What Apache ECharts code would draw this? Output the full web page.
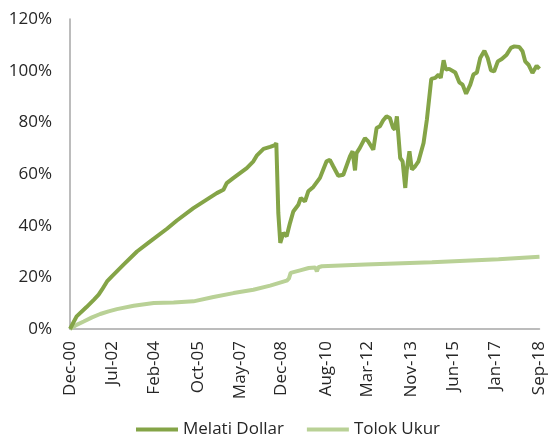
<!DOCTYPE html>
<html>
<head>
<meta charset="utf-8">
<script src="https://cdn.jsdelivr.net/npm/echarts@6/dist/echarts.min.js"></script>
<style>
  html, body { margin: 0; padding: 0; background: #fff; }
  #chart { width: 548px; height: 437px; }
</style>
</head>
<body>
<div id="chart"></div>
<script>
// x = months since Dec-00
const tickMonths = [0, 19, 38, 58, 77, 96, 116, 135, 155, 174, 193, 213];
const tickLabels = ['Dec-00', 'Jul-02', 'Feb-04', 'Oct-05', 'May-07', 'Dec-08',
  'Aug-10', 'Mar-12', 'Nov-13', 'Jun-15', 'Jan-17', 'Sep-18'];

// Melati Dollar, cumulative return in %
const melati = [
  [0, 0], [3, 4.9], [7.5, 8.5], [11, 11.5], [13, 13.3], [14.5, 15.2], [16.8, 18.4],
  [19, 20.4], [24.3, 24.9], [30.4, 30], [36.4, 33.9], [44, 38.8], [48.5, 42],
  [56, 46.8], [66.6, 52.6], [69.6, 53.9], [71.1, 56.5], [74.2, 58.5], [80.2, 62.3],
  [83.2, 64.9], [84.7, 67.1], [87.8, 69.7], [90.8, 70.5], [93, 71.2], [93.6, 72],
  [94.5, 45], [95.4, 33.3], [96.8, 37.2], [98.3, 35.9], [99.8, 41], [101.3, 45.5],
  [103.6, 48.1], [104.7, 50.7], [106.6, 49.4], [108.1, 53.3], [110.4, 55],
  [113.4, 58.5], [114.9, 61.7], [116.4, 64.9], [117.9, 65.5], [119.4, 63],
  [121.7, 59.3], [124, 59.7], [127, 66.8], [128.2, 68.8], [129.3, 61.4], [130, 68.1],
  [131.5, 70.1], [133.8, 73.9], [135.3, 72.6], [137.6, 69.4], [139.1, 77.8],
  [140.6, 78.5], [142.1, 80.8], [143.6, 82.3], [145.1, 81.7], [146.5, 78],
  [147.4, 77.2], [148.3, 82.3], [149.8, 66.2], [150.9, 64.9], [152.1, 54.6],
  [152.8, 61.7], [154, 68.8], [155.1, 61.7], [156.6, 63], [158.1, 64.9], [160.4, 72],
  [161.9, 81], [163.9, 96.8], [165.7, 97.2], [167.2, 98.5], [168.2, 97.2],
  [169.5, 104], [170.5, 100.4], [172, 100.7], [174.8, 99.3], [176.6, 95.5],
  [178.1, 94.6], [179.7, 91.1], [181.6, 94.6], [183, 98.5], [184.6, 99.3],
  [186.1, 104.9], [188, 107.7], [189.5, 104.9], [191, 100.1], [192.4, 99.7],
  [194.1, 103.6], [195.9, 104.5], [198.1, 106.2], [200, 108.8], [201.6, 109.4],
  [203.8, 109.2], [205.3, 107.5], [206.5, 103.6], [208, 102.3], [209.8, 99.1],
  [211.7, 101.9], [213, 100.7]
];

// Tolok Ukur (benchmark), cumulative return in %
const tolok = [
  [0, 0], [3, 1.6], [6.2, 2.9], [10, 4.5], [13.7, 5.8], [17.5, 6.8], [21.3, 7.7],
  [28.9, 9], [38, 10.1], [47, 10.3], [56, 10.7], [65.1, 12.4], [74.2, 13.9],
  [83.2, 15.2], [90.8, 16.8], [98.3, 18.7], [99.3, 19.5], [100.1, 21.7],
  [104.4, 22.7], [108.3, 23.6], [111.3, 23.8], [112, 22.3], [112.7, 23.9],
  [114.3, 24.3], [134, 25], [164.2, 25.8], [194.4, 27], [213, 28]
];

const font = '"Open Sans", sans-serif';
const textColor = '#262626';
const axisColor = '#a6a6a6';

var chart = echarts.init(document.getElementById('chart'));
chart.setOption({
  animation: false,
  textStyle: { fontFamily: font },
  grid: { left: 70, right: 7, top: 19, bottom: 108 },
  xAxis: {
    type: 'value',
    min: 0,
    max: 213,
    axisLine: { show: true, lineStyle: { color: axisColor, width: 1.5 } },
    axisTick: { show: false },
    splitLine: { show: false },
    axisLabel: {
      customValues: tickMonths,
      formatter: function (v) { return tickLabels[tickMonths.indexOf(v)]; },
      rotate: 90,
      margin: 12,
      color: textColor,
      fontSize: 17,
      fontFamily: font
    }
  },
  yAxis: {
    type: 'value',
    min: 0,
    max: 120,
    interval: 20,
    axisLine: { show: true, lineStyle: { color: axisColor, width: 1.5 } },
    axisTick: { show: false },
    splitLine: { show: false },
    axisLabel: {
      formatter: '{value}%',
      margin: 18,
      color: textColor,
      fontSize: 17,
      fontFamily: font
    }
  },
  legend: {
    data: ['Melati Dollar', 'Tolok Ukur'],
    left: 131,
    top: 416,
    icon: 'rect',
    itemWidth: 42,
    itemHeight: 4,
    itemGap: 23,
    textStyle: { color: textColor, fontSize: 17, fontFamily: font }
  },
  series: [
    {
      name: 'Tolok Ukur',
      type: 'line',
      data: tolok,
      showSymbol: false,
      color: '#b9d196',
      lineStyle: { width: 4, color: '#b9d196' }
    },
    {
      name: 'Melati Dollar',
      type: 'line',
      data: melati,
      showSymbol: false,
      color: '#84a447',
      lineStyle: { width: 4, color: '#84a447' }
    }
  ]
});
</script>
</body>
</html>
